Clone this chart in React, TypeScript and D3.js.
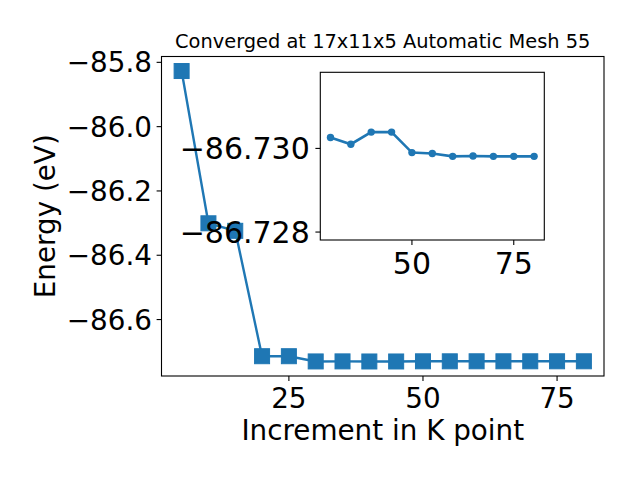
import React from "react";
import * as d3 from "d3";

const kpoints = [5, 10, 15, 20, 25, 30, 35, 40, 45, 50, 55, 60, 65, 70, 75, 80];
const energies = [
  -85.827, -86.3006, -86.324, -86.714, -86.714, -86.73026, -86.7301, -86.73039,
  -86.73039, -86.7299, -86.72988, -86.72981, -86.72982, -86.72981, -86.72981, -86.72981,
];
const mainYTicks = [-85.8, -86.0, -86.2, -86.4, -86.6];
const mainXTicks = [25, 50, 75];
const insetStart = 5; // inset shows k points from 30 on
const insetYLim = [-86.73182, -86.72781]; // top, bottom (inverted axis)
const insetYTicks = [-86.73, -86.728];
const insetXTicks = [50, 75];
const titleText = "Converged at 17x11x5 Automatic Mesh 55";
const xLabel = "Increment in K point";
const yLabel = "Energy (eV)";

const BLUE = "#1f77b4";
const FONT = "DejaVu Sans, sans-serif";

function padded(ext: [number, number], f = 0.05): [number, number] {
  const d = ext[1] - ext[0];
  return [ext[0] - d * f, ext[1] + d * f];
}

export default function App() {
  const L = 161.5, R = 604, T = 56.5, B = 376;
  const x = d3.scaleLinear().domain(padded(d3.extent(kpoints) as [number, number])).range([L, R]);
  const y = d3.scaleLinear().domain(padded(d3.extent(energies) as [number, number])).range([B, T]);

  const iL = 320.3, iR = 544.3, iT = 72.3, iB = 240;
  const ik = kpoints.slice(insetStart);
  const ie = energies.slice(insetStart);
  const ix = d3.scaleLinear().domain(padded(d3.extent(ik) as [number, number])).range([iL, iR]);
  const iy = d3.scaleLinear().domain(insetYLim).range([iT, iB]);

  const mainLine = d3.line<number>().x((_, i) => x(kpoints[i])).y((d) => y(d))(energies) || "";
  const insetLine = d3.line<number>().x((_, i) => ix(ik[i])).y((d) => iy(d))(ie) || "";

  const fmt = (v: number, digits: number) => {
    const s = v.toFixed(digits);
    return s.replace("-", "\u2212");
  };

  const ms = 15;
  const insetFont = 30;
  return (
    <svg width={640} height={480} style={{ position: "absolute", left: 0, top: 0, background: "#fff" }} fontFamily={FONT}>
      <rect x={0} y={0} width={640} height={480} fill="#fff" />
      {/* main axes */}
      <path d={mainLine} fill="none" stroke={BLUE} strokeWidth={2.4} />
      {energies.map((e, i) => (
        <rect key={i} x={x(kpoints[i]) - ms / 2} y={y(e) - ms / 2} width={ms} height={ms} fill={BLUE} stroke={BLUE} strokeWidth={1} />
      ))}
      <rect x={L} y={T} width={R - L} height={B - T} fill="none" stroke="#000" strokeWidth={1.1} />
      {mainYTicks.map((t) => (
        <g key={t}>
          <line x1={L - 4.9} x2={L} y1={y(t)} y2={y(t)} stroke="#000" strokeWidth={1.1} />
          <text x={L - 9.5} y={y(t)} dy="0.36em" textAnchor="end" fontSize={27.8} fill="#000">{fmt(t, 1)}</text>
        </g>
      ))}
      {mainXTicks.map((t) => (
        <g key={t}>
          <line x1={x(t)} x2={x(t)} y1={B} y2={B + 4.9} stroke="#000" strokeWidth={1.1} />
          <text x={x(t)} y={B + 31.7} textAnchor="middle" fontSize={27.8} fill="#000">{t}</text>
        </g>
      ))}
      <text x={(L + R) / 2} y={47.7} textAnchor="middle" fontSize={19.4} fill="#000">{titleText}</text>
      <text x={(L + R) / 2} y={440} textAnchor="middle" fontSize={27.8} fill="#000">{xLabel}</text>
      <text transform={`translate(55, ${(T + B) / 2}) rotate(-90)`} textAnchor="middle" fontSize={27.8} fill="#000">{yLabel}</text>

      {/* inset axes */}
      <rect x={iL} y={iT} width={iR - iL} height={iB - iT} fill="#fff" stroke="none" />
      <path d={insetLine} fill="none" stroke={BLUE} strokeWidth={2.6} />
      {ie.map((e, i) => (
        <circle key={i} cx={ix(ik[i])} cy={iy(e)} r={3.7} fill={BLUE} />
      ))}
      <rect x={iL} y={iT} width={iR - iL} height={iB - iT} fill="none" stroke="#000" strokeWidth={1.1} />
      {insetYTicks.map((t) => (
        <g key={t}>
          <line x1={iL - 4.9} x2={iL} y1={iy(t)} y2={iy(t)} stroke="#000" strokeWidth={1.1} />
          <text x={iL - 10.5} y={iy(t)} dy="0.36em" textAnchor="end" fontSize={insetFont} fill="#000">{fmt(t, 3)}</text>
        </g>
      ))}
      {insetXTicks.map((t) => (
        <g key={t}>
          <line x1={ix(t)} x2={ix(t)} y1={iB} y2={iB + 4.9} stroke="#000" strokeWidth={1.1} />
          <text x={ix(t)} y={iB + 33.5} textAnchor="middle" fontSize={insetFont} fill="#000">{t}</text>
        </g>
      ))}
    </svg>
  );
}
